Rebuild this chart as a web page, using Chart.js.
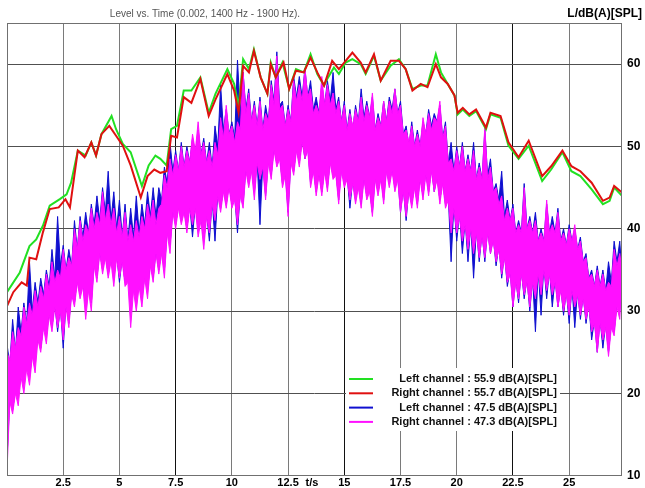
<!DOCTYPE html>
<html>
<head>
<meta charset="utf-8">
<script src="https://cdn.jsdelivr.net/npm/chart.js@4.4.1/dist/chart.umd.min.js"></script>
<style>
  html, body { margin: 0; padding: 0; background: #fff; }
  #wrap { width: 645px; height: 488px; }
</style>
</head>
<body>
<div id="wrap"><canvas id="plot" width="645" height="488"></canvas></div>
<script>
// smooth level curves
const greenT = [0, 0.57, 1.0, 1.3, 1.6, 1.9, 2.35, 2.65, 2.85, 3.15, 3.5, 3.75, 3.96, 4.2, 4.65, 4.85, 5.15, 5.5, 6.0, 6.3,
  6.6, 6.82, 7.1, 7.3, 7.56, 7.86, 8.2, 8.6, 8.97, 9.27, 9.8, 10.1, 10.3, 10.5, 10.76, 10.98, 11.28, 11.58, 11.73, 11.95,
  12.25, 12.55, 12.85, 13.2, 13.5, 13.8, 14.1, 14.24, 14.54, 14.76, 15.06, 15.36, 15.73, 15.95, 16.32, 16.62, 17.06, 17.43, 17.73, 18.03,
  18.4, 18.7, 19.07, 19.3, 19.6, 19.9, 20.04, 20.27, 20.56, 20.86, 21.3, 21.5, 21.95, 22.3, 22.75, 23.2, 23.8, 24.2, 24.7, 25.1,
  25.5, 26.0, 26.5, 26.8, 27.0, 27.35];
const greenV = [32.3, 34.7, 37.9, 38.7, 40.4, 42.8, 43.6, 44.2, 45.6, 49.5, 48.9, 50.5, 48.9, 51.5, 53.7, 52.1, 50.3, 49.3, 45.2, 47.7,
  48.9, 48.5, 47.7, 52.1, 52.5, 56.8, 56.8, 58.4, 54.1, 56.4, 59.4, 57.6, 54.9, 60.6, 59.4, 61.8, 58.4, 56.4, 60.2, 58.4,
  60.2, 57.0, 59.4, 59.0, 61.2, 58.8, 57.4, 58.2, 59.6, 58.8, 60.2, 60.6, 60.0, 58.8, 61.0, 58.0, 59.8, 60.6, 59.4, 57.0,
  57.4, 57.4, 61.2, 59.0, 57.6, 56.2, 53.9, 54.5, 53.7, 54.3, 52.1, 53.9, 53.5, 50.1, 48.5, 50.1, 45.8, 47.2, 49.3, 47.0,
  46.4, 44.8, 43.0, 43.4, 45.0, 44.0];

const redT = [0, 0.28, 0.65, 0.88, 1.0, 1.3, 1.6, 1.9, 2.3, 2.6, 2.8, 3.15, 3.45, 3.75, 3.96, 4.2, 4.55, 4.85, 5.15, 5.5,
  5.95, 6.25, 6.55, 6.82, 7.1, 7.3, 7.56, 7.86, 8.2, 8.6, 8.97, 9.27, 9.8, 10.1, 10.3, 10.5, 10.76, 10.98, 11.28, 11.58,
  11.73, 11.95, 12.3, 12.55, 12.85, 13.2, 13.5, 13.8, 14.1, 14.46, 14.76, 15.06, 15.36, 15.73, 15.95, 16.32, 16.62, 17.06, 17.43, 17.73,
  18.03, 18.4, 18.7, 19.07, 19.3, 19.6, 19.9, 20.04, 20.27, 20.56, 20.86, 21.3, 21.5, 21.95, 22.3, 22.75, 23.2, 23.8, 24.2, 24.7,
  25.1, 25.5, 26.0, 26.5, 26.8, 27.0, 27.35];
const redV = [30.6, 32.3, 33.5, 33.1, 36.5, 36.3, 39.6, 42.4, 42.6, 43.6, 42.6, 49.5, 48.7, 50.5, 48.9, 51.5, 52.5, 51.3, 50.1, 47.7,
  43.8, 46.4, 47.2, 46.8, 47.0, 51.3, 51.1, 56.0, 55.3, 58.2, 53.7, 55.7, 58.8, 56.8, 54.1, 59.8, 59.0, 61.6, 58.4, 56.4,
  60.0, 58.4, 60.2, 57.0, 59.2, 59.0, 60.8, 59.0, 57.4, 60.4, 59.4, 60.4, 61.4, 60.2, 59.0, 61.2, 58.0, 60.4, 60.4, 59.4,
  56.8, 57.6, 57.2, 60.0, 58.4, 57.6, 56.2, 54.1, 54.7, 53.9, 54.5, 52.3, 54.1, 53.7, 50.5, 48.7, 50.7, 46.4, 47.6, 49.5,
  47.6, 47.0, 45.6, 43.4, 43.8, 45.2, 44.4];

// noisy short-time levels: peak / dip edges of each trace, every 0.25 s,
// plus the edge level half-way between two samples (the "Mid" arrays)
const noiseT = [0, 0.25, 0.5, 0.75, 1, 1.25, 1.5, 1.75, 2, 2.25, 2.5, 2.75, 3, 3.25, 3.5, 3.75, 4, 4.25, 4.5, 4.75,
  5, 5.25, 5.5, 5.75, 6, 6.25, 6.5, 6.75, 7, 7.25, 7.5, 7.75, 8, 8.25, 8.5, 8.75, 9, 9.25, 9.5, 9.75,
  10, 10.25, 10.5, 10.75, 11, 11.25, 11.5, 11.75, 12, 12.25, 12.5, 12.75, 13, 13.25, 13.5, 13.75, 14, 14.25, 14.5, 14.75,
  15, 15.25, 15.5, 15.75, 16, 16.25, 16.5, 16.75, 17, 17.25, 17.5, 17.75, 18, 18.25, 18.5, 18.75, 19, 19.25, 19.5, 19.75,
  20, 20.25, 20.5, 20.75, 21, 21.25, 21.5, 21.75, 22, 22.25, 22.5, 22.75, 23, 23.25, 23.5, 23.75, 24, 24.25, 24.5, 24.75,
  25, 25.25, 25.5, 25.75, 26, 26.25, 26.5, 26.75, 27, 27.25, 27.35];

const magentaHi = [25.0, 27.5, 28.0, 30.5, 31.0, 32.5, 33.0, 34.5, 36.0, 35.0, 37.5, 36.5, 40.0, 41.0, 40.5, 42.5, 42.0, 44.5, 43.0, 42.5,
  41.5, 42.0, 40.5, 41.0, 41.5, 43.0, 43.5, 42.5, 46.5, 48.5, 49.0, 50.0, 49.5, 51.5, 53.0, 50.5, 49.5, 50.5, 53.5, 55.0,
  52.5, 53.0, 59.0, 56.5, 55.0, 55.5, 54.0, 57.5, 61.0, 55.0, 54.5, 58.0, 57.5, 59.5, 57.0, 55.0, 58.5, 57.5, 56.5, 55.5,
  55.0, 54.0, 54.5, 56.0, 55.0, 56.5, 53.5, 55.5, 55.5, 57.0, 55.0, 52.0, 52.5, 51.5, 53.5, 54.0, 53.5, 55.5, 52.5, 48.5,
  49.5, 50.0, 48.5, 49.5, 47.5, 52.5, 47.5, 45.0, 44.0, 42.5, 42.5, 40.5, 45.0, 41.0, 41.0, 39.5, 43.5, 40.5, 42.0, 39.5,
  40.0, 40.5, 38.5, 36.5, 34.5, 35.0, 34.5, 33.5, 37.5, 37.0, 37.0];
const magentaHiMid = [24.0, 25.5, 27.0, 28.5, 29.5, 30.5, 31.5, 32.5, 33.5, 34.0, 35.0, 35.5, 37.5, 38.5, 39.5, 40.0, 40.5, 41.0, 40.5, 39.5,
  39.0, 38.5, 38.5, 39.0, 40.0, 41.0, 40.5, 43.0, 45.0, 46.5, 47.0, 47.5, 48.0, 49.5, 49.0, 48.0, 47.5, 49.0, 51.0, 51.5,
  50.5, 52.0, 54.0, 53.0, 52.5, 52.0, 53.0, 55.0, 54.5, 52.5, 53.0, 55.5, 55.5, 56.0, 54.0, 54.0, 55.0, 55.0, 54.0, 53.0,
  52.0, 52.5, 53.0, 53.0, 53.5, 52.0, 52.5, 53.0, 54.0, 54.0, 51.5, 50.5, 50.0, 50.0, 51.5, 52.0, 53.0, 51.0, 48.0, 47.0,
  47.5, 47.0, 47.0, 46.0, 46.0, 46.0, 44.5, 43.0, 41.0, 41.0, 39.5, 39.5, 40.0, 39.5, 38.5, 38.5, 39.5, 39.5, 38.5, 38.0,
  38.5, 37.5, 36.0, 34.0, 33.0, 33.0, 32.5, 33.0, 35.5, 36.0];
const magentaLo = [10.5, 17.5, 18.5, 20.0, 21.0, 22.5, 25.0, 26.0, 27.5, 28.0, 26.5, 28.0, 30.5, 31.5, 29.0, 30.0, 33.5, 34.5, 34.0, 33.0,
  34.0, 33.0, 28.0, 30.0, 30.5, 31.5, 33.5, 34.5, 34.0, 37.0, 40.0, 40.5, 39.5, 40.5, 39.0, 37.5, 39.5, 41.0, 42.0, 42.5,
  42.5, 40.5, 42.5, 45.0, 43.5, 46.0, 43.5, 46.0, 47.5, 45.0, 41.5, 46.5, 47.5, 48.5, 45.0, 44.0, 44.0, 44.5, 46.0, 43.0,
  45.0, 43.5, 43.0, 42.5, 43.5, 41.5, 44.0, 43.0, 45.0, 44.5, 42.0, 41.5, 42.5, 42.5, 43.5, 44.0, 44.5, 43.0, 42.5, 39.5,
  39.5, 38.5, 37.5, 37.0, 36.5, 36.5, 37.0, 36.0, 34.5, 33.5, 30.5, 31.5, 32.0, 30.5, 31.5, 32.0, 32.5, 32.0, 30.5, 30.0,
  29.5, 30.5, 29.5, 29.0, 27.5, 25.0, 26.5, 24.5, 27.0, 29.0, 29.5];
const magentaLoMid = [19.0, 20.0, 22.0, 23.0, 24.5, 26.5, 28.0, 29.5, 30.5, 30.0, 30.5, 32.0, 33.5, 33.0, 32.5, 35.5, 37.0, 36.5, 36.0, 36.5,
  36.0, 33.5, 32.5, 33.0, 34.0, 35.5, 37.0, 37.0, 39.5, 42.0, 42.5, 42.0, 42.5, 42.5, 41.0, 41.5, 43.0, 44.0, 44.5, 45.0,
  43.5, 44.0, 47.0, 47.0, 48.0, 47.5, 48.0, 49.5, 48.5, 46.5, 48.0, 49.5, 50.5, 49.5, 47.0, 46.5, 47.0, 48.0, 46.5, 47.0,
  46.0, 45.5, 45.0, 46.0, 44.5, 46.0, 46.0, 47.0, 47.0, 46.0, 44.5, 44.5, 45.0, 46.0, 46.5, 47.0, 46.0, 45.5, 43.5, 42.5,
  41.5, 40.5, 40.0, 39.5, 39.0, 39.5, 38.5, 37.5, 36.5, 34.5, 33.5, 34.5, 33.5, 33.5, 34.5, 35.0, 34.5, 33.5, 32.5, 32.0,
  32.5, 32.0, 31.5, 30.5, 28.5, 28.5, 28.0, 28.0, 30.5, 31.5];

const blueHi = [26.0, 29.0, 30.5, 31.0, 36.0, 33.5, 34.0, 35.0, 37.5, 41.5, 38.0, 37.5, 41.0, 41.5, 42.0, 43.0, 44.0, 45.0, 47.0, 44.5,
  43.5, 43.0, 42.5, 44.0, 43.0, 44.5, 45.0, 45.0, 47.5, 50.5, 49.5, 50.5, 50.0, 51.0, 52.0, 51.0, 50.5, 52.5, 57.5, 54.5,
  53.0, 60.5, 59.0, 57.0, 55.5, 56.0, 55.0, 58.0, 61.5, 55.5, 55.0, 58.5, 58.5, 59.5, 58.0, 56.0, 57.5, 58.0, 59.0, 56.0,
  55.5, 54.5, 55.0, 57.0, 55.5, 56.0, 54.0, 55.5, 56.0, 57.0, 55.5, 52.5, 53.0, 52.0, 53.0, 54.5, 54.0, 55.0, 53.0, 50.5,
  50.0, 50.5, 49.0, 50.5, 48.0, 52.0, 48.5, 45.5, 47.0, 43.5, 43.0, 41.0, 45.5, 41.5, 42.0, 40.0, 43.0, 41.5, 42.5, 40.0,
  40.5, 40.0, 39.0, 37.0, 35.0, 35.5, 35.0, 36.0, 38.5, 38.5, 38.7];
const blueHiMid = [23.5, 25.0, 27.5, 28.5, 30.0, 31.0, 32.0, 33.0, 34.0, 35.5, 35.0, 35.5, 37.5, 39.0, 39.5, 40.5, 41.0, 42.0, 41.0, 40.0,
  39.0, 38.5, 39.0, 39.5, 40.5, 41.5, 41.5, 43.5, 45.5, 47.0, 47.0, 47.5, 48.0, 49.0, 49.0, 48.0, 47.5, 50.0, 52.0, 51.5,
  51.0, 54.0, 54.5, 53.0, 52.5, 52.0, 53.0, 55.5, 55.0, 52.5, 53.0, 56.0, 56.0, 56.0, 54.5, 54.0, 55.0, 55.5, 54.5, 53.0,
  52.0, 52.0, 53.0, 53.5, 53.5, 52.0, 52.5, 53.0, 54.5, 54.0, 51.5, 50.0, 50.0, 50.0, 51.5, 52.5, 53.0, 51.0, 48.0, 47.0,
  47.5, 47.0, 47.0, 46.0, 46.0, 46.5, 44.5, 43.5, 41.5, 41.0, 39.5, 39.5, 40.0, 39.5, 38.5, 38.5, 39.5, 39.5, 38.5, 38.0,
  38.5, 37.5, 36.0, 34.0, 33.0, 33.0, 32.5, 33.5, 36.0, 36.5];
const blueLo = [12.0, 18.0, 20.0, 22.0, 22.0, 24.0, 25.5, 27.0, 28.0, 27.5, 25.5, 28.5, 31.0, 32.0, 30.5, 31.0, 34.0, 35.0, 34.5, 34.0,
  33.5, 33.5, 33.0, 31.5, 31.5, 32.5, 34.0, 35.0, 35.0, 38.0, 40.5, 41.0, 40.0, 39.0, 40.0, 38.5, 38.5, 38.5, 42.5, 43.0,
  43.0, 39.5, 43.0, 45.5, 44.5, 40.5, 44.0, 46.5, 48.0, 45.5, 42.0, 47.0, 48.0, 48.5, 45.5, 44.5, 44.5, 45.0, 46.5, 43.5,
  45.5, 42.5, 43.5, 43.0, 44.0, 42.0, 44.5, 43.5, 45.5, 45.0, 42.0, 41.0, 43.0, 43.0, 44.0, 44.5, 44.5, 43.5, 43.0, 36.0,
  38.5, 37.0, 36.0, 34.0, 36.0, 36.0, 37.0, 35.5, 34.0, 33.0, 30.5, 31.0, 31.5, 30.0, 27.5, 29.5, 31.5, 30.5, 30.5, 29.5,
  28.5, 28.0, 29.0, 28.5, 26.5, 25.0, 25.5, 25.0, 27.5, 30.0, 29.0];
const blueLoMid = [19.5, 20.5, 22.5, 23.5, 25.0, 27.0, 28.5, 30.0, 31.0, 30.5, 31.0, 32.5, 34.0, 33.5, 33.0, 36.0, 37.5, 37.0, 36.5, 37.0,
  36.5, 34.0, 33.0, 33.5, 34.5, 36.0, 37.5, 37.5, 40.0, 42.5, 43.0, 42.5, 43.0, 43.0, 41.5, 42.0, 43.5, 44.5, 45.0, 45.5,
  44.0, 44.5, 47.5, 47.5, 48.5, 48.0, 48.5, 50.0, 49.0, 47.0, 48.5, 50.0, 51.0, 50.0, 47.5, 47.0, 47.5, 48.5, 47.0, 47.5,
  46.5, 46.0, 45.5, 46.5, 45.0, 46.5, 46.5, 47.5, 47.5, 46.5, 45.0, 45.0, 45.5, 46.5, 47.0, 47.5, 46.5, 46.0, 44.0, 43.0,
  42.0, 41.0, 40.5, 40.0, 39.5, 40.0, 39.0, 38.0, 37.0, 35.0, 34.0, 35.0, 34.0, 34.0, 35.0, 35.5, 35.0, 34.0, 33.0, 32.5,
  33.0, 32.5, 32.0, 31.0, 29.0, 29.0, 28.5, 28.5, 31.0, 32.0];

const legendRows = [
  { text: "Left channel : 55.9 dB(A)[SPL]", color: "#22e022" },
  { text: "Right channel : 55.7 dB(A)[SPL]", color: "#e01010" },
  { text: "Left channel : 47.5 dB(A)[SPL]", color: "#1010d0" },
  { text: "Right channel : 47.3 dB(A)[SPL]", color: "#ff10ff" }
];

const FONT = "'Liberation Sans', Arial, sans-serif";

function pts(ts, vs) {
  return ts.map((t, i) => ({ x: t, y: vs[i] }));
}

// edge of a noisy trace: sample values at noiseT, mid values between samples
function edge(vals, mids) {
  const out = [];
  noiseT.forEach((t, i) => {
    out.push({ x: t, y: vals[i] });
    if (i < mids.length) out.push({ x: (t + noiseT[i + 1]) / 2, y: mids[i] });
  });
  return out;
}

function line(label, data, color, width, fill) {
  return {
    label: label,
    data: data,
    borderColor: color,
    backgroundColor: color,
    borderWidth: width,
    pointRadius: 0,
    tension: 0,
    fill: fill
  };
}

const decor = {
  id: "decor",
  afterDraw(chart) {
    const ctx = chart.ctx;
    const a = chart.chartArea;
    ctx.save();
    // plot frame
    ctx.strokeStyle = "#707070";
    ctx.lineWidth = 1;
    ctx.strokeRect(Math.round(a.left) + 0.5, Math.round(a.top) + 0.5, Math.round(a.right - a.left) - 1, Math.round(a.bottom - a.top) - 1);

    // header texts
    ctx.textBaseline = "middle";
    ctx.fillStyle = "#555";
    ctx.font = "10px " + FONT;
    ctx.textAlign = "center";
    ctx.fillText("Level vs. Time (0.002, 1400 Hz - 1900 Hz).", 205, 14);
    ctx.fillStyle = "#000";
    ctx.font = "bold 12px " + FONT;
    ctx.textAlign = "right";
    ctx.fillText("L/dB(A)[SPL]", 642, 14);

    // x axis unit
    ctx.font = "bold 11px " + FONT;
    ctx.textAlign = "center";
    ctx.fillText("t/s", 312, 483);

    // legend
    ctx.fillStyle = "#fff";
    ctx.fillRect(346, 368, 214, 63);
    ctx.font = "bold 11px " + FONT;
    ctx.textAlign = "right";
    legendRows.forEach((r, i) => {
      const y = 379 + i * 14.3;
      ctx.strokeStyle = r.color;
      ctx.lineWidth = 2;
      ctx.beginPath();
      ctx.moveTo(349, y);
      ctx.lineTo(373, y);
      ctx.stroke();
      ctx.fillStyle = "#111";
      ctx.fillText(r.text, 557, y);
    });
    ctx.restore();
  }
};

new Chart(document.getElementById("plot"), {
  type: "line",
  data: {
    datasets: [
      line("Right channel : 55.7 dB(A)[SPL]", pts(redT, redV), "#e01010", 2, false),
      line("Left channel : 55.9 dB(A)[SPL]", pts(greenT, greenV), "#22e022", 2, false),
      line("Right channel : 47.3 dB(A)[SPL]", edge(magentaHi, magentaHiMid), "#ff10ff", 1, 3),
      line("Right channel low", edge(magentaLo, magentaLoMid), "#ff10ff", 1, false),
      line("Left channel : 47.5 dB(A)[SPL]", edge(blueHi, blueHiMid), "#1010d0", 1, 5),
      line("Left channel low", edge(blueLo, blueLoMid), "#1010d0", 1, false)
    ]
  },
  options: {
    responsive: false,
    animation: false,
    layout: { padding: { top: 23, left: 7, right: 0, bottom: 0 } },
    plugins: {
      legend: { display: false },
      title: { display: false },
      tooltip: { enabled: false },
      filler: { propagate: false }
    },
    scales: {
      x: {
        type: "linear",
        min: 0,
        max: 27.35,
        afterBuildTicks: (axis) => {
          axis.ticks = axis.ticks.filter(t => Math.abs(t.value / 2.5 - Math.round(t.value / 2.5)) < 1e-6);
        },
        afterFit: (axis) => { axis.height = 12; },
        ticks: {
          stepSize: 2.5,
          autoSkip: false,
          maxRotation: 0,
          padding: 1,
          color: "#000",
          font: { family: FONT, size: 11, weight: "bold" },
          callback: (v) => (v === 0 ? "" : String(v))
        },
        grid: {
          drawTicks: false,
          color: (c) => (c.tick && c.tick.value > 0 && Math.abs(c.tick.value % 7.5) < 1e-6 ? "#111" : "#7a7a7a")
        },
        border: { display: false }
      },
      y: {
        type: "linear",
        position: "right",
        min: 10,
        max: 65,
        afterBuildTicks: (axis) => {
          axis.ticks = axis.ticks.filter(t => t.value % 10 === 0);
        },
        afterFit: (axis) => { axis.width = 23; },
        ticks: {
          stepSize: 10,
          padding: 5,
          color: "#000",
          font: { family: FONT, size: 12, weight: "bold" }
        },
        grid: { drawTicks: false, color: "#505050" },
        border: { display: false }
      }
    }
  },
  plugins: [decor]
});
</script>
</body>
</html>
